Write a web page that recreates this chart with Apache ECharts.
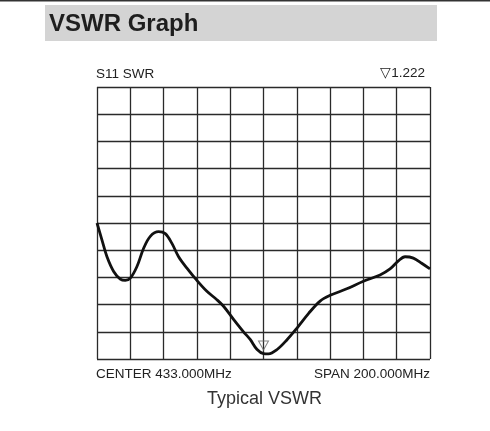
<!DOCTYPE html>
<html>
<head>
<meta charset="utf-8">
<title>VSWR Graph</title>
<script src="https://cdn.jsdelivr.net/npm/echarts@6/dist/echarts.min.js"></script>
<style>
  html, body { margin: 0; padding: 0; background: #fff; }
  #vswr-chart { width: 490px; height: 431px; }
</style>
</head>
<body>
<div id="vswr-chart"></div>
<script>
// 频率偏移 (MHz, 相对中心 433 MHz)
var freqOffset = [-100, -97, -94, -90, -86, -83, -80, -76, -72, -68, -63, -59, -55, -51, -46, -40,
  -34, -28, -24, -18, -12, -8, -4, 0, 3, 8, 14, 20, 27, 34, 40, 50, 60, 70, 76, 81, 85, 90, 95, 100];
// SWR 曲线 (单位: 格)
var swrDiv = [5.0, 4.37, 3.76, 3.22, 2.94, 2.89, 2.97, 3.40, 4.07, 4.51, 4.68, 4.61, 4.25, 3.76, 3.34, 2.89,
  2.49, 2.18, 1.94, 1.46, 1.0, 0.72, 0.36, 0.2, 0.19, 0.34, 0.70, 1.13, 1.67, 2.13, 2.34, 2.58, 2.86, 3.09, 3.31, 3.61, 3.76, 3.71, 3.52, 3.31];
// 标记点
var markerOffset = [0];
var markerDiv = [0.2];
var markerText = '\u25BD1.222';

var chart = echarts.init(document.getElementById('vswr-chart'));

var points = freqOffset.map(function (f, i) { return [f, swrDiv[i]]; });
var markers = markerOffset.map(function (f, i) { return [f, markerDiv[i]]; });

var txt = '#222';
var font = '"Liberation Sans", Arial, sans-serif';

var option = {
  backgroundColor: '#fff',
  animation: false,
  grid: { left: 97, top: 87, width: 333, height: 272 },
  xAxis: {
    type: 'value',
    min: -100,
    max: 100,
    interval: 20,
    axisLine: { show: false },
    axisTick: { show: false },
    axisLabel: { show: false },
    splitLine: { show: true, lineStyle: { color: '#2a2a2a', width: 1.3 } }
  },
  yAxis: {
    type: 'value',
    min: 0,
    max: 10,
    interval: 1,
    axisLine: { show: false },
    axisTick: { show: false },
    axisLabel: { show: false },
    splitLine: { show: true, lineStyle: { color: '#2a2a2a', width: 1.3 } }
  },
  series: [{
    type: 'line',
    data: points,
    smooth: 0.35,
    showSymbol: false,
    lineStyle: { color: '#111', width: 2.8 }
  }, {
    // 倒三角标记
    type: 'scatter',
    data: markers,
    symbol: 'path://M0,0L10,0L5,9Z',
    symbolSize: [10, 9],
    symbolOffset: [0, -8],
    itemStyle: { color: 'rgba(255,255,255,0)', borderColor: '#666', borderWidth: 1 },
    z: 5
  }],
  graphic: [
    { type: 'rect', left: 0, top: 0, shape: { width: 490, height: 1.5 }, style: { fill: '#333' } },
    { type: 'rect', left: 45, top: 5, shape: { width: 392, height: 36 }, style: { fill: '#d4d4d4' } },
    { type: 'text', left: 49, top: 12, style: { text: 'VSWR Graph', fill: '#1e1e1e', font: 'bold 24px ' + font } },
    { type: 'text', left: 96, top: 67, style: { text: 'S11 SWR', fill: txt, font: '13.5px ' + font } },
    { type: 'text', right: 65, top: 66, style: { text: markerText, fill: txt, font: '13.5px ' + font } },
    { type: 'text', left: 96, top: 367, style: { text: 'CENTER 433.000MHz', fill: txt, font: '13.5px ' + font } },
    { type: 'text', right: 60, top: 367, style: { text: 'SPAN 200.000MHz', fill: txt, font: '13.5px ' + font } },
    { type: 'text', left: 207, top: 390, style: { text: 'Typical VSWR', fill: '#333', font: '18px ' + font } }
  ]
};

chart.setOption(option);
</script>
</body>
</html>
